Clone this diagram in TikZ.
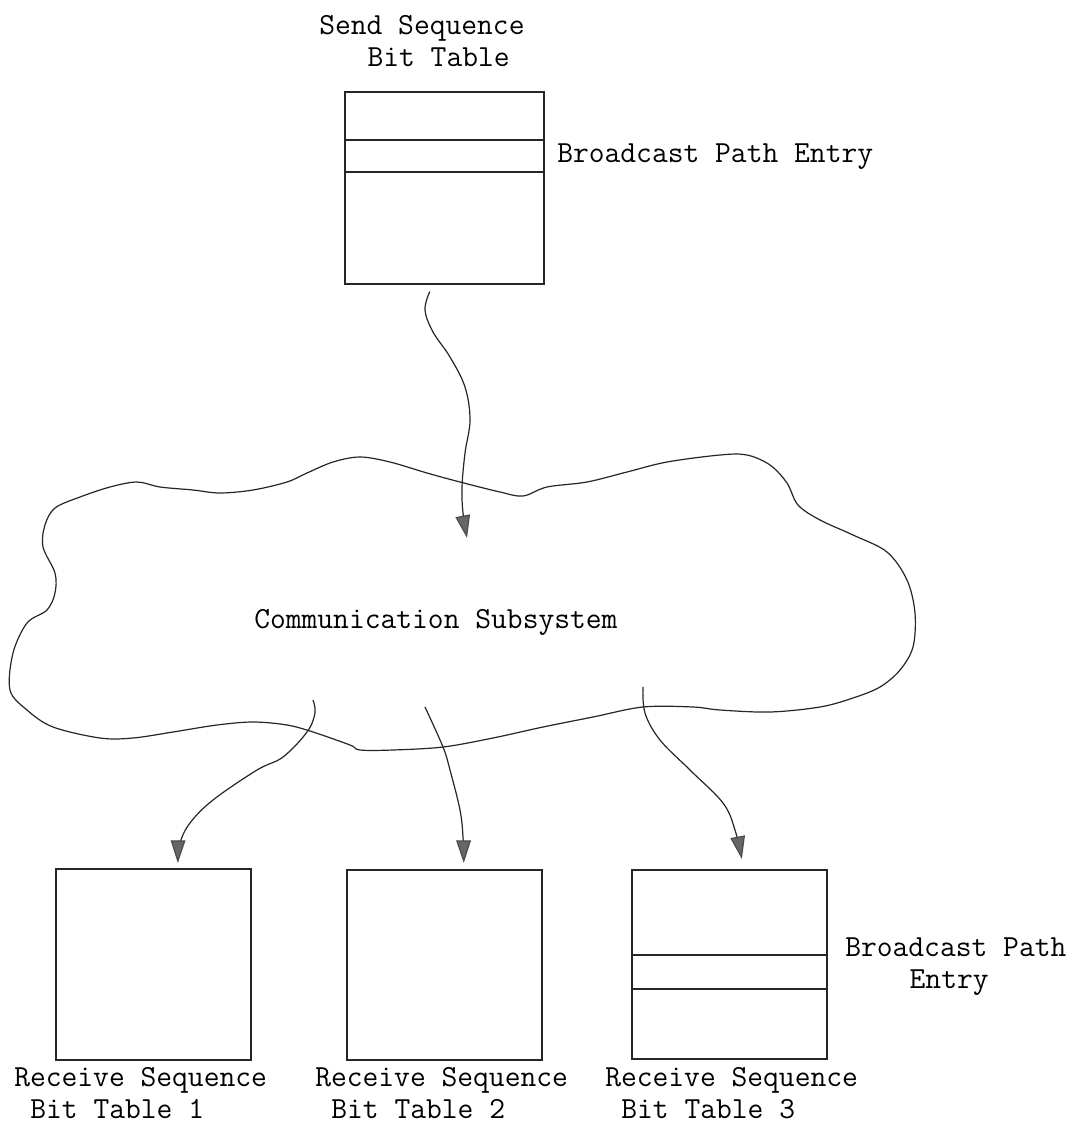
\documentclass[tikz,border=0pt]{standalone}
\usepackage{fontspec}
\usetikzlibrary{arrows.meta}
\begin{document}
\begin{tikzpicture}[x=0.75pt,y=-0.75pt,
  lbl/.style={font=\ttfamily\fontsize{23pt}{23.5pt}\selectfont, inner sep=0pt, anchor=base west, align=left, text=black},
  tbl/.style={draw=black!85, line width=1.2pt, inner sep=0pt, anchor=north west, minimum width=146.25pt},
  divline/.style={draw=black!85, line width=1.2pt},
  cloudline/.style={draw=black!85, line width=0.9pt},
  conn/.style={draw=black!85, line width=0.9pt, -{Triangle[length=17pt,width=11pt,fill=black!60,color=black!70]}}]
\useasboundingbox[fill=white] (0,0) rectangle (1080,1125);

% tables
\node[tbl, minimum width=149.25pt, minimum height=144pt] (send) at (344,91) {};
\node[tbl, minimum height=143.25pt] (r1) at (55,868) {};
\node[tbl, minimum height=142.5pt] (r2) at (346,869) {};
\node[tbl, minimum height=141.75pt] (r3) at (631,869) {};
\draw[divline] (send.west |- 0,140) -- (send.east |- 0,140);
\draw[divline] (send.west |- 0,172) -- (send.east |- 0,172);
\draw[divline] (r3.west |- 0,955) -- (r3.east |- 0,955);
\draw[divline] (r3.west |- 0,989) -- (r3.east |- 0,989);

% labels (multi-line nodes: base = baseline of the last line)
\node[lbl] (sendlbl) at (319,66) {Send Sequence\\\hspace*{1.575em}Bit Table};
\node[lbl] (bpe1) at (557,162) {Broadcast Path Entry};
\node[lbl] (cslbl) at (254,628) {Communication Subsystem};
\node[lbl] (r1lbl) at (14,1118) {Receive Sequence\\\hspace*{0.525em}Bit Table 1};
\node[lbl] (r2lbl) at (315,1118) {Receive Sequence\\\hspace*{0.525em}Bit Table 2};
\node[lbl] (r3lbl) at (605,1118) {Receive Sequence\\\hspace*{0.525em}Bit Table 3};
\node[lbl] (bpe2) at (845,988) {Broadcast Path\\\hspace*{2.1em}Entry};

% cloud
\draw[cloudline] plot[smooth cycle, tension=0.55] coordinates {
 (10,690) (13,653) (27,623) (47,610) (55,593) (55,573) (43,547) (45,525) (55,508)
 (80,497) (110,487) (137,482) (160,487) (193,490) (220,493) (253,490) (287,482)
 (307,473) (333,462) (360,457) (390,462) (427,473) (460,482) (500,492) (523,496)
 (547,487) (587,482) (627,472) (667,462) (720,455) (747,455) (770,465) (787,483)
 (798,505) (820,520) (853,535) (887,552) (907,580) (915,613) (913,647) (900,670)
 (880,687) (853,698) (820,707) (770,712) (720,710) (693,707) (643,707) (593,717)
 (543,727) (493,738) (443,747) (393,750) (360,750) (350,745) (313,732) (287,725)
 (253,722) (217,725) (173,732) (133,738) (100,738) (53,727) (27,710)};

% connector end points
\coordinate (a0s) at ([xshift=-10.9pt,yshift=-5.25pt]send.south);
\coordinate (a0e) at (467,538);
\coordinate (a1s) at (313,700);
\coordinate (a2s) at (425,707);
\coordinate (a3s) at (643,687);
\coordinate (a1e) at ([xshift=18.4pt,yshift=3.75pt]r1.north);
\coordinate (a2e) at ([xshift=14.6pt,yshift=4.5pt]r2.north);
\coordinate (a3e) at ([xshift=9.4pt,yshift=7.5pt]r3.north);

\draw[conn] plot[smooth, tension=0.6] coordinates {(a0s) (425,310) (433,332) (450,357) (465,387) (470,420) (465,453) (462,487) (463,513) (a0e)};
\draw[conn] plot[smooth, tension=0.6] coordinates {(a1s) (315,713) (307,732) (283,757) (257,770) (213,800) (190,823) (180,843) (a1e)};
\draw[conn] plot[smooth, tension=0.6] coordinates {(a2s) (443,747) (450,770) (460,810) (463,837) (a2e)};
\draw[conn] plot[smooth, tension=0.6] coordinates {(a3s) (645,713) (660,740) (690,770) (723,803) (735,830) (a3e)};
\end{tikzpicture}
\end{document}
